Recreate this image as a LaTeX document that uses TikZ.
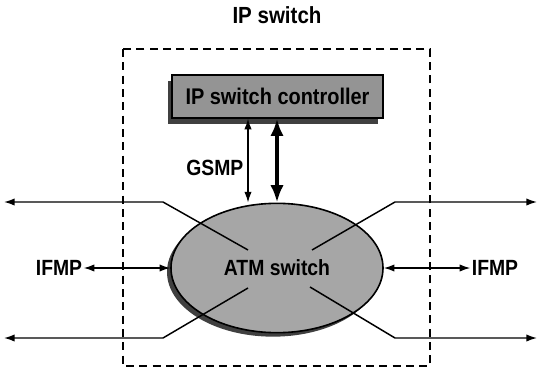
\documentclass[tikz,border=0pt]{standalone}
\usepackage{fontspec}
\setmainfont{Liberation Sans}[FakeStretch=0.88]
\usetikzlibrary{arrows.meta,shapes.geometric,shadows}
\begin{document}
\begin{tikzpicture}[x=0.75pt,y=-0.75pt,
  lbl/.style={font=\fontsize{16.5}{18}\selectfont\bfseries, inner sep=1pt},
  thinarr/.style={line width=1pt,{Latex[length=8pt,width=5.5pt]}-{Latex[length=8pt,width=5.5pt]}},
  thickarr/.style={line width=2.6pt,{Latex[length=13pt,width=10pt]}-{Latex[length=13pt,width=10pt]}},
  outarr/.style={line width=1.1pt,-{Latex[length=8pt,width=5.5pt]}},
  ctrlbox/.style={draw, line width=1.2pt, fill=black!42, minimum width=158pt, minimum height=32pt,
    drop shadow={shadow xshift=-3.5pt, shadow yshift=-4.5pt, fill=black!75, opacity=1},
    font=\fontsize{17}{19}\selectfont\bfseries},
  atmell/.style={ellipse, draw, line width=1.2pt, fill=black!35, minimum width=159pt, minimum height=97pt, inner sep=0pt,
    drop shadow={shadow xshift=-3pt, shadow yshift=-3pt, fill=black!75, opacity=1}},
  frame/.style={line width=1.2pt, dash pattern=on 6pt off 4pt}
]
\useasboundingbox (0,0) rectangle (539,371);
\node[lbl, font=\fontsize{17.5}{19}\selectfont\bfseries] (title) at (277,15) {IP switch};
\draw[frame] (123,49) rectangle (430,366);
\node[ctrlbox] (ctrl) at (277.5,96.5) {IP switch controller};
\node[atmell] (atm) at (277,268) {};
% lines from the switch
\coordinate (ula) at (248,250);
\coordinate (ulb) at (163,202);
\coordinate (ulc) at (4,202);
\coordinate (lla) at (248,288);
\coordinate (llb) at (163,338);
\coordinate (llc) at (4,338);
\coordinate (ura) at (312,250);
\coordinate (urb) at (395,202);
\coordinate (urc) at (537,202);
\coordinate (lra) at (310,287);
\coordinate (lrb) at (395,338);
\coordinate (lrc) at (537,338);
\draw[outarr] (ula) -- (ulb) -- (ulc);
\draw[outarr] (lla) -- (llb) -- (llc);
\draw[outarr] (ura) -- (urb) -- (urc);
\draw[outarr] (lra) -- (lrb) -- (lrc);
\node[lbl] (atmtxt) at (277,268) {ATM switch};
% GSMP
\coordinate (gx) at (248,0);
\draw[thinarr] (ctrl.south -| gx) -- (atm.north -| gx);
\node[lbl, anchor=east] (gsmp) at (245,168) {GSMP};
\draw[thickarr] (ctrl.south -| atm.north) -- (atm.north);
% IFMP
\node[lbl] (ifl) at (59,268) {IFMP};
\node[lbl] (ifr) at (495,268) {IFMP};
\draw[thinarr] (ifl.east) -- (atm.west);
\draw[thinarr] (atm.east) -- (ifr.west);
\end{tikzpicture}
\end{document}
